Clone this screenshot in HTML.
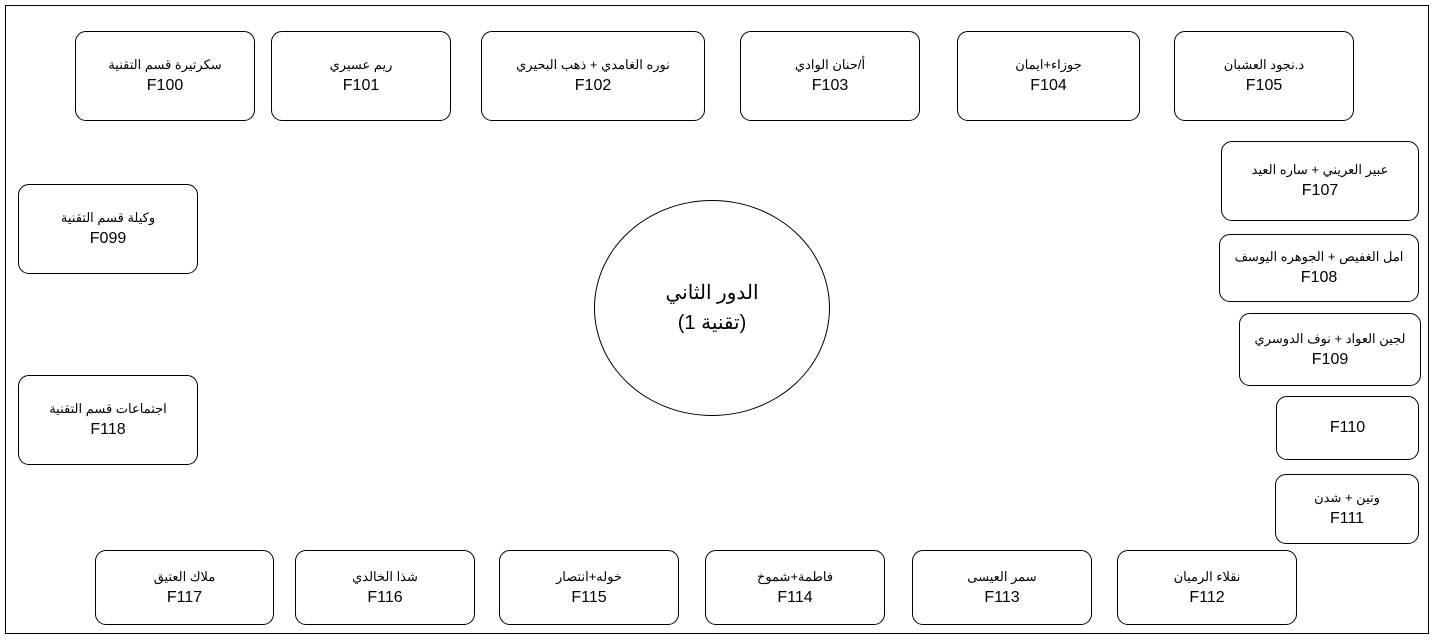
<!DOCTYPE html>
<html><head><meta charset="utf-8"><style>
body{margin:0;width:1435px;height:640px;background:#fff;position:relative;overflow:hidden;font-family:"Liberation Sans","Noto Sans CJK SC",sans-serif;}
.o{position:absolute;left:5px;top:5px;width:1424px;height:629px;border:1px solid #000;box-sizing:border-box}
.b{position:absolute;border:1px solid #000;border-radius:11px;box-sizing:border-box;display:flex;flex-direction:column;justify-content:center;align-items:center;text-align:center;color:#000}
.b .a{font-size:13px;line-height:20px;direction:rtl;white-space:nowrap}
.b .f{font-size:16px;line-height:22px}
.e{position:absolute;left:594px;top:200px;width:236px;height:216px;border:1px solid #000;border-radius:50%;box-sizing:border-box;display:flex;flex-direction:column;justify-content:center;align-items:center;font-size:20px;line-height:30px;direction:rtl}
</style></head><body>
<div class="o"></div>
<div class="b" style="left:75px;top:31px;width:180px;height:90px"><div class="a">سكرتيرة قسم التقنية</div><div class="f">F100</div></div>
<div class="b" style="left:271px;top:31px;width:180px;height:90px"><div class="a">ريم عسيري</div><div class="f">F101</div></div>
<div class="b" style="left:481px;top:31px;width:224px;height:90px"><div class="a">نوره الغامدي + ذهب البحيري</div><div class="f">F102</div></div>
<div class="b" style="left:740px;top:31px;width:180px;height:90px"><div class="a">أ/حنان الوادي</div><div class="f">F103</div></div>
<div class="b" style="left:957px;top:31px;width:183px;height:90px"><div class="a">جوزاء+ايمان</div><div class="f">F104</div></div>
<div class="b" style="left:1174px;top:31px;width:180px;height:90px"><div class="a">د.نجود العشبان</div><div class="f">F105</div></div>
<div class="b" style="left:1221px;top:141px;width:198px;height:80px"><div class="a">عبير العريني + ساره العيد</div><div class="f">F107</div></div>
<div class="b" style="left:1219px;top:234px;width:200px;height:68px"><div class="a">امل الغفيص + الجوهره اليوسف</div><div class="f">F108</div></div>
<div class="b" style="left:1239px;top:313px;width:182px;height:73px"><div class="a">لجين العواد + نوف الدوسري</div><div class="f">F109</div></div>
<div class="b" style="left:1276px;top:396px;width:143px;height:64px"><div class="f">F110</div></div>
<div class="b" style="left:1275px;top:474px;width:144px;height:70px"><div class="a">وتين + شدن</div><div class="f">F111</div></div>
<div class="b" style="left:18px;top:184px;width:180px;height:90px"><div class="a">وكيلة قسم التقنية</div><div class="f">F099</div></div>
<div class="b" style="left:18px;top:375px;width:180px;height:90px"><div class="a">اجتماعات قسم التقنية</div><div class="f">F118</div></div>
<div class="b" style="left:95px;top:550px;width:179px;height:75px"><div class="a">ملاك العتيق</div><div class="f">F117</div></div>
<div class="b" style="left:295px;top:550px;width:180px;height:75px"><div class="a">شذا الخالدي</div><div class="f">F116</div></div>
<div class="b" style="left:499px;top:550px;width:180px;height:75px"><div class="a">خوله+انتصار</div><div class="f">F115</div></div>
<div class="b" style="left:705px;top:550px;width:180px;height:75px"><div class="a">فاطمة+شموخ</div><div class="f">F114</div></div>
<div class="b" style="left:912px;top:550px;width:180px;height:75px"><div class="a">سمر العيسى</div><div class="f">F113</div></div>
<div class="b" style="left:1117px;top:550px;width:180px;height:75px"><div class="a">نقلاء الرميان</div><div class="f">F112</div></div>
<div class="e"><div>الدور الثاني</div><div>(تقنية 1)</div></div>
</body></html>
